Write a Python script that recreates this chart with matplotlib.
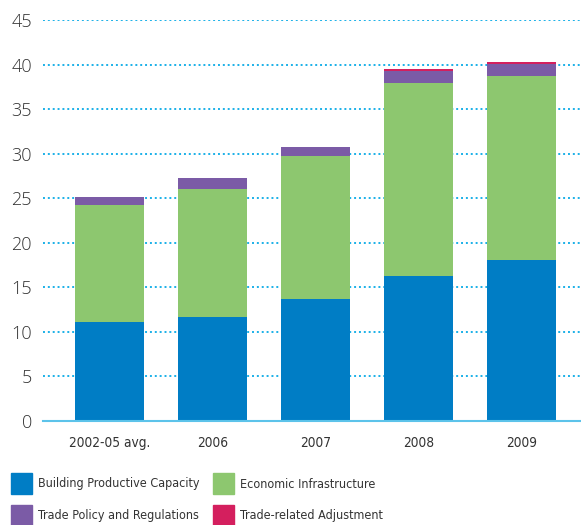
import matplotlib.pyplot as plt
from matplotlib.patches import Rectangle

categories = ["2002-05 avg.", "2006", "2007", "2008", "2009"]
building = [11.1, 11.7, 13.7, 16.3, 18.1]
economic = [13.1, 14.3, 16.0, 21.6, 20.6]
policy = [0.9, 1.3, 1.05, 1.4, 1.4]
adjustment = [0.0, 0.0, 0.0, 0.2, 0.15]

series = [
    ("Building Productive Capacity", building, "#007dc5"),
    ("Economic Infrastructure", economic, "#8dc76f"),
    ("Trade Policy and Regulations", policy, "#7b5ba6"),
    ("Trade-related Adjustment", adjustment, "#d41f5e"),
]

text_col = "#333333"
cond = {"family": "DejaVu Sans", "stretch": "condensed"}

W, H = 581, 525
fig = plt.figure(figsize=(W / 100, H / 100), dpi=100)
ax = fig.add_axes([43 / W, 1 - 421 / H, 1 - 43 / W, (421 - 20) / H])

x = range(len(categories))
bottom = [0.0] * len(categories)
for name, vals, col in series:
    ax.bar(x, vals, width=0.67, bottom=bottom, color=col, zorder=2)
    bottom = [b + v for b, v in zip(bottom, vals)]

ax.set_xlim(-0.646, 4.578)
ax.set_ylim(0, 45)
ax.set_yticks(range(0, 46, 5))
ax.yaxis.grid(True, color="#1ab0e8", linestyle=(0, (1, 1.5)), linewidth=1.4, zorder=1)
ax.set_axisbelow(True)
for s in ["top", "right", "left"]:
    ax.spines[s].set_visible(False)
ax.spines["bottom"].set_color("#5cc3ea")
ax.spines["bottom"].set_linewidth(1.5)
ax.spines["bottom"].set_zorder(3)

ax.tick_params(axis="both", length=0)
ax.tick_params(axis="y", labelsize=13, labelcolor=text_col, pad=8)
ax.set_xticks(list(x))
ax.set_xticklabels(categories, fontsize=9.8, color=text_col, **cond)
ax.tick_params(axis="x", pad=11)
for t in ax.get_yticklabels():
    t.set_family("Open Sans")
    t.set_fontweight("light")

# legend: 2 rows x 2 columns, squares + labels
leg_pos = [(11, 473), (213, 473), (11, 505), (213, 505)]
for (name, vals, col), (px, py) in zip(series, leg_pos):
    fig.patches.append(Rectangle((px / W, 1 - (py + 21) / H), 21 / W, 21 / H,
                                 transform=fig.transFigure, color=col))
    fig.text((px + 27) / W, 1 - (py + 11) / H, name, va="center", ha="left",
             fontsize=9, color=text_col, **cond)

fig.savefig("out.png", dpi=100)
